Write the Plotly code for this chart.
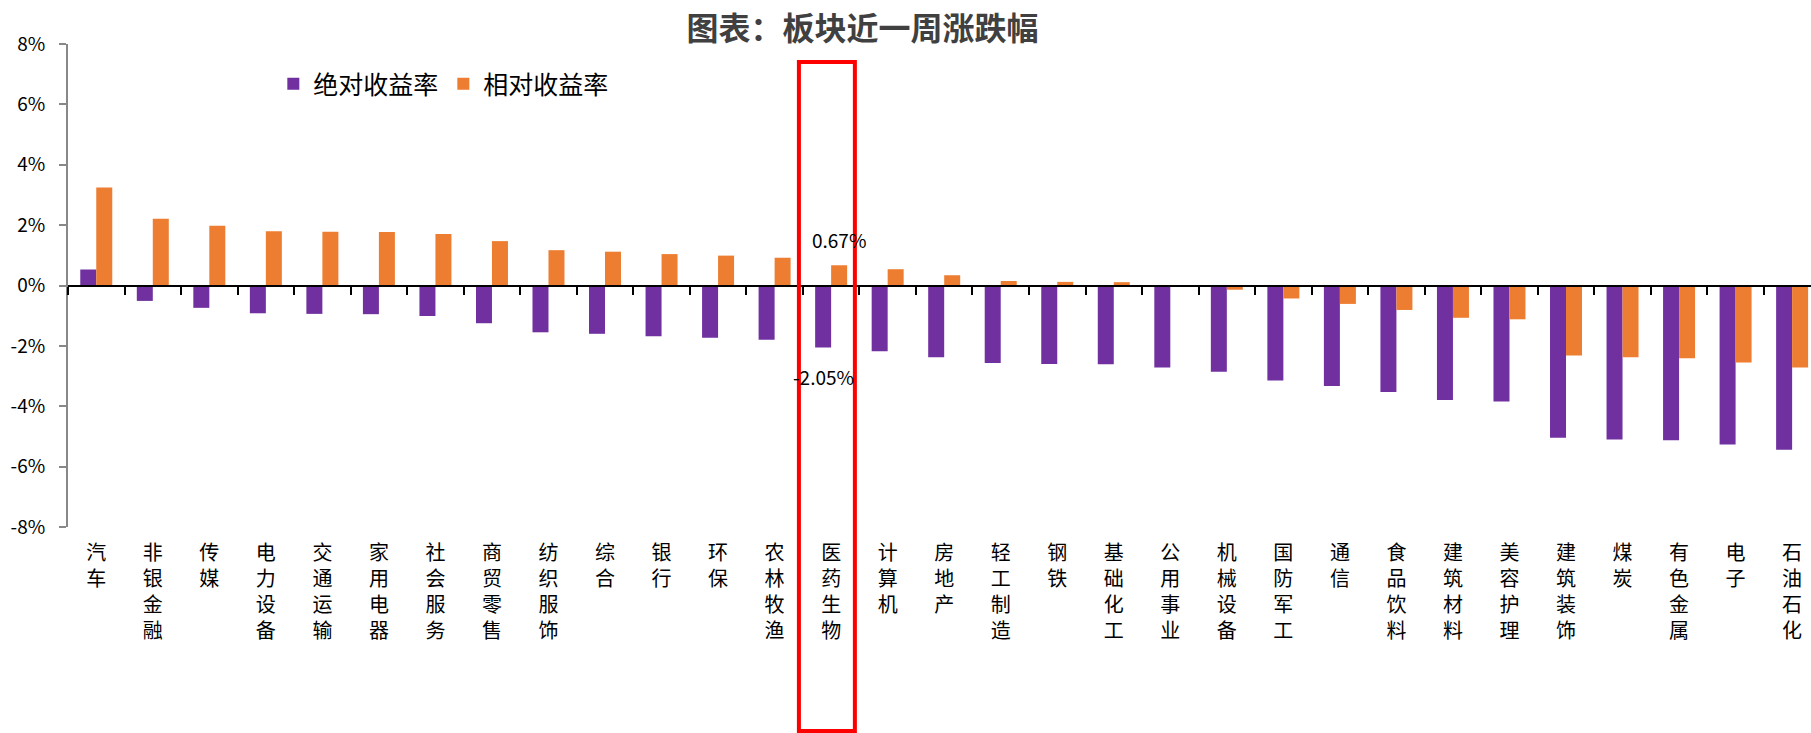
import plotly.graph_objects as go

# Sector weekly returns (%), sorted by absolute return
categories = ['汽车', '非银金融', '传媒', '电力设备', '交通运输', '家用电器', '社会服务',
              '商贸零售', '纺织服饰', '综合', '银行', '环保', '农林牧渔', '医药生物',
              '计算机', '房地产', '轻工制造', '钢铁', '基础化工', '公用事业', '机械设备',
              '国防军工', '通信', '食品饮料', '建筑材料', '美容护理', '建筑装饰', '煤炭',
              '有色金属', '电子', '石油石化']
absolute_ret = [0.53, -0.51, -0.74, -0.92, -0.94, -0.95, -1.01, -1.25, -1.55, -1.60, -1.68,
                -1.73, -1.80, -2.05, -2.18, -2.38, -2.57, -2.60, -2.61, -2.72, -2.86, -3.15,
                -3.33, -3.53, -3.79, -3.84, -5.04, -5.10, -5.13, -5.27, -5.44]
relative_ret = [3.25, 2.21, 1.98, 1.80, 1.78, 1.77, 1.71, 1.47, 1.17, 1.12, 1.04, 0.99, 0.92,
                0.67, 0.54, 0.34, 0.15, 0.12, 0.11, 0.00, -0.14, -0.43, -0.61, -0.81, -1.07,
                -1.12, -2.32, -2.38, -2.41, -2.55, -2.72]
y_ticks = [-8, -6, -4, -2, 0, 2, 4, 6, 8]
y_tick_text = ['-8%', '-6%', '-4%', '-2%', '0%', '2%', '4%', '6%', '8%']
highlight = '医药生物'

FONT = 'Noto Sans CJK SC, Noto Sans, sans-serif'
PURPLE = '#7030A0'
ORANGE = '#ED7D31'

n = len(categories)
x_idx = list(range(n))
x_range = [-0.5, n - 0.5 - 0.166]

# vertical category labels: one character per line
stacked = ['<br>'.join(list(c)) for c in categories]

fig = go.Figure()
fig.add_trace(go.Bar(x=x_idx, y=absolute_ret, name='绝对收益率',
                     marker=dict(color=PURPLE, line=dict(width=0))))
fig.add_trace(go.Bar(x=x_idx, y=relative_ret, name='相对收益率',
                     marker=dict(color=ORANGE, line=dict(width=0))))
# carrier for the zero-line axis with boundary ticks
fig.add_trace(go.Scatter(x=[], y=[], xaxis='x2', showlegend=False, hoverinfo='skip'))

# value labels for the highlighted sector
hi = categories.index(highlight)
fig.add_annotation(x=hi, y=relative_ret[hi], text=f'{relative_ret[hi]:.2f}%',
                   showarrow=False, xshift=8, yshift=10, yanchor='bottom',
                   font=dict(family=FONT, size=19, color='#000000'))
fig.add_annotation(x=hi, y=absolute_ret[hi], text=f'{absolute_ret[hi]:.2f}%',
                   showarrow=False, xshift=-8, yshift=-14, yanchor='top',
                   font=dict(family=FONT, size=19, color='#000000'))

# red frame around the highlighted sector
fig.add_shape(type='rect', xref='x', yref='paper',
              x0=hi - 0.57, x1=hi + 0.42, y0=-0.4224, y1=0.9627,
              line=dict(color='#FF0000', width=4), fillcolor='rgba(0,0,0,0)',
              layer='above')

fig.update_layout(
    width=1811, height=733,
    margin=dict(l=68, r=0, t=44, b=206),
    paper_bgcolor='white', plot_bgcolor='white',
    barmode='group', bargap=0.434, bargroupgap=0,
    font=dict(family=FONT, color='#000000'),
    title=dict(text='图表：板块近一周涨跌幅', xref='container', x=0.4763,
               xanchor='center', yref='container', y=0.9604, yanchor='middle',
               font=dict(family=FONT, size=32, color='#404040', weight='bold')),
    legend=dict(orientation='h', x=0.1178, xanchor='left', y=0.917, yanchor='middle',
                font=dict(family=FONT, size=25, color='#000000'),
                bgcolor='rgba(0,0,0,0)', traceorder='normal'),
    xaxis=dict(type='linear', range=x_range, tickmode='array', tickvals=x_idx,
               ticktext=stacked, ticks='', showline=False, showgrid=False,
               zeroline=False, tickangle=0, ticklabelstandoff=12,
               tickfont=dict(family=FONT, size=20, color='#000000')),
    xaxis2=dict(overlaying='x', anchor='free', position=0.5, type='linear',
                range=x_range, tickmode='array',
                tickvals=[i - 0.5 for i in range(n + 1)],
                ticks='outside', ticklen=8, tickwidth=2, tickcolor='#000000',
                showline=True, linecolor='#000000', linewidth=2,
                showticklabels=False, showgrid=False, zeroline=False),
    yaxis=dict(range=[-8, 8], tickmode='array', tickvals=y_ticks, ticktext=y_tick_text,
               ticks='outside', ticklen=7, tickwidth=1.5, tickcolor='#888888',
               showline=True, linecolor='#888888', linewidth=2,
               showgrid=False, zeroline=False, ticklabelstandoff=10,
               tickfont=dict(family=FONT, size=19, color='#000000')),
)

fig.write_html('out.html')
